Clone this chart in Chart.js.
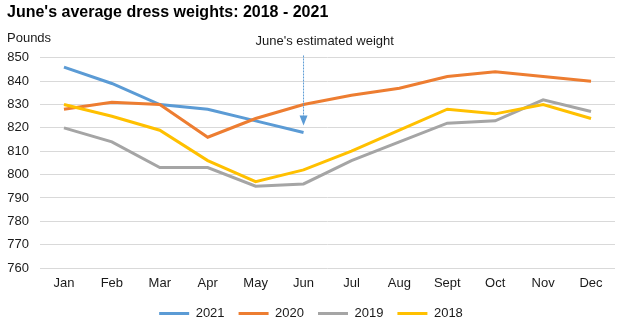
<!DOCTYPE html>
<html>
<head>
<meta charset="utf-8">
<script src="https://cdn.jsdelivr.net/npm/chart.js@4/dist/chart.umd.min.js"></script>
<style>
  html, body { margin: 0; padding: 0; background: #fff; }
  #wrap { width: 620px; height: 321px; }
</style>
</head>
<body>
<div id="wrap"><canvas id="myChart" width="620" height="321"></canvas></div>
<script>
const months = ['Jan', 'Feb', 'Mar', 'Apr', 'May', 'Jun', 'Jul', 'Aug', 'Sept', 'Oct', 'Nov', 'Dec'];
const weights2021 = [846, 839, 830, 828, 823, 818];
const weights2020 = [828, 831, 830, 816, 824, 830, 834, 837, 842, 844, 842, 840];
const weights2019 = [820, 814, 803, 803, 795, 796, 806, 814, 822, 823, 832, 827];
const weights2018 = [830, 825, 819, 806, 797, 802, 810, 819, 828, 826, 830, 824];
const yTicks = [760, 770, 780, 790, 800, 810, 820, 830, 840, 850];
const noteMonth = 'Jun';
const noteText = "June's estimated weight";
const noteFrom = 851;
const noteTo = 821;

const font = 'Liberation Sans, Arial, sans-serif';

// arrow + label pointing at June
const juneNote = {
  id: 'juneNote',
  afterDatasetsDraw(chart) {
    const { ctx, scales } = chart;
    const x = scales.x.getPixelForValue(months.indexOf(noteMonth));
    const y0 = scales.y.getPixelForValue(noteFrom);
    const y1 = scales.y.getPixelForValue(noteTo);
    ctx.save();
    ctx.strokeStyle = '#5B9BD5';
    ctx.fillStyle = '#5B9BD5';
    ctx.lineWidth = 1;
    ctx.setLineDash([2, 1]);
    ctx.beginPath();
    ctx.moveTo(x, y0);
    ctx.lineTo(x, y1 - 9);
    ctx.stroke();
    ctx.setLineDash([]);
    ctx.beginPath();
    ctx.moveTo(x - 4, y1 - 10);
    ctx.lineTo(x + 4, y1 - 10);
    ctx.lineTo(x, y1);
    ctx.closePath();
    ctx.fill();
    ctx.fillStyle = '#1a1a1a';
    ctx.font = '13px ' + font;
    ctx.textAlign = 'left';
    ctx.textBaseline = 'middle';
    ctx.fillText(noteText, x - 48, chart.chartArea.top - 16);
    ctx.restore();
  },
};

// legend sits tighter under the month labels than chart.js allows by default
const tightLegend = {
  id: 'tightLegend',
  beforeLayout(chart) {
    const legend = chart.legend;
    if (!legend || legend._tight) return;
    const fit = legend.fit;
    legend.fit = function () {
      fit.call(this);
      this.height -= 9;
    };
    legend._tight = true;
  },
};

const line = (label, data, color, order) => ({
  label,
  data,
  borderColor: color,
  backgroundColor: color,
  borderWidth: 3,
  pointRadius: 0,
  tension: 0,
  order,
});

const ctx = document.getElementById('myChart').getContext('2d');
const chart = new Chart(ctx, {
  type: 'line',
  data: {
    labels: months,
    datasets: [
      line('2021', weights2021, '#5B9BD5', 4),
      line('2020', weights2020, '#ED7D31', 3),
      line('2019', weights2019, '#A5A5A5', 2),
      line('2018', weights2018, '#FFC000', 1),
    ],
  },
  options: {
    responsive: false,
    animation: false,
    events: [],
    layout: { padding: { left: 7, right: 5, top: 0, bottom: 0 } },
    plugins: {
      title: {
        display: true,
        text: "June's average dress weights: 2018 - 2021",
        align: 'start',
        color: '#000',
        font: { family: font, size: 16, weight: 'bold' },
        padding: { top: 3, bottom: 8 },
      },
      subtitle: {
        display: true,
        text: 'Pounds',
        align: 'start',
        color: '#1a1a1a',
        font: { family: font, size: 13 },
        padding: { top: 0, bottom: 12 },
      },
      legend: {
        position: 'bottom',
        labels: {
          usePointStyle: true,
          pointStyle: 'line',
          pointStyleWidth: 30,
          boxHeight: 13,
          padding: 14,
          color: '#1a1a1a',
          font: { family: font, size: 13 },
          sort: (a, b) => a.datasetIndex - b.datasetIndex,
        },
      },
      tooltip: { enabled: false },
    },
    scales: {
      x: {
        offset: true,
        grid: { display: false, drawTicks: false },
        border: { display: false },
        ticks: { color: '#1a1a1a', padding: 8, font: { family: font, size: 13 } },
        afterFit: (axis) => { axis.height = 25; },
      },
      y: {
        min: yTicks[0],
        max: yTicks[yTicks.length - 1],
        afterBuildTicks: (axis) => { axis.ticks = yTicks.map((v) => ({ value: v })); },
        grid: { color: '#d9d9d9', drawTicks: false },
        border: { display: false },
        ticks: { color: '#1a1a1a', padding: 11, font: { family: font, size: 13 } },
        afterFit: (axis) => { axis.width = 33; },
      },
    },
  },
  plugins: [juneNote, tightLegend],
});
</script>
</body>
</html>
